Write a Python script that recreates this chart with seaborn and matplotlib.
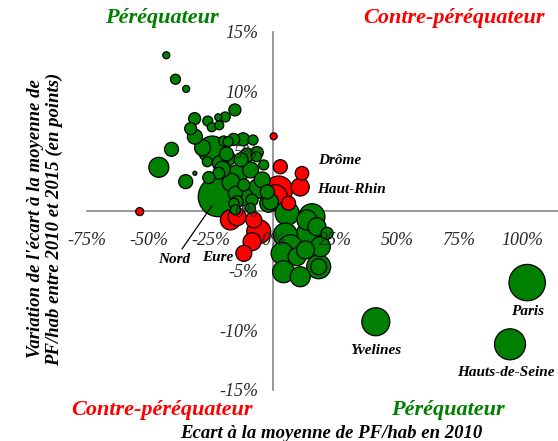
import numpy as np
import pandas as pd
import matplotlib
matplotlib.use("Agg")
import matplotlib.pyplot as plt
import seaborn as sns

# Ecart à la moyenne de PF/hab en 2010 (%)
ecart_2010 = [
    -43.1, -39.4, -35.1, -15.5, -31.7, -26.4, -22.2, -19.4, -24.8, -21.8,
    -33.3, -31.6, -41.0, 0.1, -24.6, -20.0, -18.2, -12.2, -8.2, -18.9,
    -10.6, -46.1, -35.3, -31.6, -53.8, -22.2, 2.8, 11.5, 10.8, 2.1,
    0.8, -17.3, -14.6, -5.9, -8.6, -11.9, 6.1, -7.9, -18.6, -21.3,
    -6.8, -3.9, -26.6, -22.0, -14.6, -9.2, -5.9, -11.9, -15.3, -11.9,
    -8.6, -1.2, -15.9, -15.3, -9.2, -14.6, -1.9, 5.5, 4.8, 13.5,
    15.5, 17.5, 14.2, 3.5, 4.1, 10.8, 18.2, 18.2, 9.5, 12.9,
    21.6, 18.9, 6.8, 102.1, 41.2, 95.2,
    -20.5, -17.0, -26.0, -13.0, -4.5, -2.5, -6.5, -16.0, -28.5,
]
# Variation de l'écart entre 2010 et 2015 (points)
variation = [
    13.05, 11.04, 10.23, 8.47, 7.74, 7.54, 7.85, 7.88, 7.02, 7.18,
    6.90, 6.23, 5.17, 6.26, 5.11, 5.87, 5.81, 6.01, 5.95, 4.78,
    4.69, 3.66, 2.46, 3.16, -0.05, 1.20, 3.71, 3.16, 2.01, 1.76,
    1.20, -0.75, -0.48, -1.73, -2.57, -3.55, 0.65, -0.75, 4.42, 4.00,
    4.55, 3.86, 4.13, 3.16, 3.02, 3.44, 1.90, 2.18, 1.48, 1.20,
    0.92, 0.78, 0.65, 0.10, 0.23, 0.78, 0.65, -0.19, -2.01, -0.75,
    -0.48, -1.32, -2.05, -3.55, -5.09, -5.51, -4.67, -4.67, -3.83, -3.27,
    -1.87, -2.99, -2.99, -6.00, -9.28, -11.17,
    3.50, 2.40, 2.80, 4.30, 2.60, 1.60, 4.90, 6.00, 5.30,
]
# Population (milliers d'habitants)
population = [
    80, 163, 80, 234, 234, 163, 80, 163, 132, 132,
    234, 366, 319, 80, 1274, 163, 163, 275, 163, 319,
    319, 650, 319, 26, 104, 2600, 319, 300, 526, 1274,
    936, 650, 526, 936, 526, 416, 319, 416, 416, 416,
    163, 163, 163, 234, 650, 416, 650, 234, 319, 526,
    234, 416, 163, 163, 163, 234, 526, 936, 936, 650,
    1100, 526, 1100, 786, 786, 650, 936, 416, 526, 526,
    234, 650, 936, 2150, 1274, 1560,
    416, 526, 234, 319, 416, 319, 234, 234, 416,
]
noms = [""] * len(ecart_2010)
noms[25] = "Nord"
noms[27] = "Drôme"
noms[28] = "Haut-Rhin"
noms[35] = "Eure"
noms[73] = "Paris"
noms[74] = "Yvelines"
noms[75] = "Hauts-de-Seine"

VERT = "#008000"
ROUGE = "#FF0000"

df = pd.DataFrame({"x": ecart_2010, "y": variation, "pop": population, "nom": noms})
df["profil"] = np.where(df["x"] * df["y"] < 0, "Péréquateur", "Contre-péréquateur")
df = df.sort_values("pop", ascending=False, kind="stable")

sns.set_theme(style="white")
plt.rcParams["font.family"] = ["Liberation Serif", "DejaVu Serif"]

fig = plt.figure(figsize=(5.58, 4.41), dpi=100)
ax = fig.add_axes([87 / 558, 51 / 441, 471 / 558, 358 / 441])

sns.scatterplot(
    data=df, x="x", y="y", hue="profil", size="pop",
    palette={"Péréquateur": VERT, "Contre-péréquateur": ROUGE},
    sizes=(0, 829), size_norm=(0, 2600),
    edgecolor="black", linewidth=0.9, alpha=1, legend=False, ax=ax, zorder=2,
)

ax.set_xlim(-75, 114.5)
ax.set_ylim(-15, 15)
ax.set_xticks(np.arange(-75, 101, 25))
ax.set_yticks(np.arange(-15, 16, 5))
ax.xaxis.set_major_formatter(matplotlib.ticker.FuncFormatter(lambda v, p: f"{v:.0f}%"))
ax.yaxis.set_major_formatter(matplotlib.ticker.FuncFormatter(lambda v, p: f"{v:.0f}%"))

for side in ("top", "right"):
    ax.spines[side].set_visible(False)
ax.spines["left"].set_position(("data", 0))
ax.spines["bottom"].set_position(("data", 0))
for side in ("left", "bottom"):
    ax.spines[side].set_color("#868686")
    ax.spines[side].set_linewidth(1.2)
    ax.spines[side].set_zorder(1)
ax.set_axisbelow(False)
ax.xaxis.set_zorder(3)
ax.yaxis.set_zorder(3)
ax.tick_params(axis="both", direction="out", length=4, width=1.2, color="#868686",
               labelsize=13, labelcolor="#262626")
ax.tick_params(axis="x", pad=11)
ax.tick_params(axis="y", pad=7)
for lab in ax.get_xticklabels() + ax.get_yticklabels():
    lab.set_fontstyle("italic")
ax.set_xlabel("")
ax.set_ylabel("")
ax.set_facecolor("none")

# Etiquettes des départements
decalages = {
    "Drôme": (27, 9), "Haut-Rhin": (37, -2), "Eure": (-19, -3),
    "Paris": (0, -21), "Yvelines": (0, -20.5), "Hauts-de-Seine": (-3, -20),
}
lbl = dict(fontsize=11, fontweight="bold", fontstyle="italic", color="black",
           ha="center", va="center", zorder=4)
for _, r in df[df["nom"] != ""].iterrows():
    if r["nom"] == "Nord":
        ax.annotate("Nord", xy=(r["x"], r["y"]), xytext=(-31.5, -45.5),
                    textcoords="offset points",
                    arrowprops=dict(arrowstyle="-", color="black", lw=0.9,
                                    shrinkA=1, shrinkB=8), **lbl)
    else:
        ax.annotate(r["nom"], xy=(r["x"], r["y"]), xytext=decalages[r["nom"]],
                    textcoords="offset points", **lbl)

# Quadrants
quad = dict(fontsize=16, fontweight="bold", fontstyle="italic", ha="center", va="center")
fig.text(162 / 558, 1 - 18 / 441, "Péréquateur", color=VERT, **quad)
fig.text(454 / 558, 1 - 18 / 441, "Contre-péréquateur", color=ROUGE, **quad)
fig.text(162 / 558, 1 - 410 / 441, "Contre-péréquateur", color=ROUGE, **quad)
fig.text(448 / 558, 1 - 410 / 441, "Péréquateur", color=VERT, **quad)

titre = dict(fontsize=13.5, fontweight="bold", fontstyle="italic", color="black",
             ha="center", va="center")
fig.text(331 / 558, 1 - 433 / 441, "Ecart à la moyenne de PF/hab en 2010", **titre)
fig.text(45 / 558, 1 - 219 / 441,
         "Variation de l'écart à la moyenne de\nPF/hab entre 2010 et 2015 (en points)",
         rotation=90, linespacing=1.2, **titre)

fig.savefig("out.png", dpi=100)
